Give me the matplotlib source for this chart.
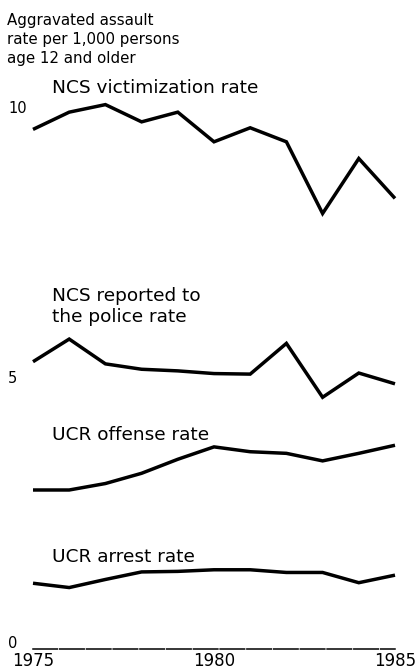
import matplotlib
matplotlib.use("Agg")
import matplotlib.pyplot as plt
from matplotlib.transforms import ScaledTranslation

years = [1975, 1976, 1977, 1978, 1979, 1980, 1981, 1982, 1983, 1984, 1985]
ncs_victimization = [9.64, 9.96, 10.1, 9.78, 9.96, 9.41, 9.67, 9.41, 8.08, 9.10, 8.36]
ncs_reported = [5.33, 5.75, 5.29, 5.19, 5.16, 5.11, 5.10, 5.67, 4.67, 5.12, 4.92]
ucr_offense = [2.95, 2.95, 3.07, 3.26, 3.52, 3.75, 3.66, 3.63, 3.49, 3.63, 3.78]
ucr_arrest = [1.22, 1.14, 1.29, 1.43, 1.44, 1.47, 1.47, 1.42, 1.42, 1.23, 1.37]

ytick_vals = [0, 5, 10]
ytick_labels = ["0", "5", "10"]
xtick_vals = [1975, 1980, 1985]
xtick_labels = ["1975", "1980", "1985"]

title_lines = ["Aggravated assault", "rate per 1,000 persons", "age 12 and older"]

plt.rcParams['font.family'] = ['DejaVu Sans']

W, H = 416, 672
fig = plt.figure(figsize=(W / 100, H / 100), dpi=100)
fig.patch.set_facecolor('white')

px_per_unit = 53.9
y0_px = 649
left_px, right_px = 33, 395
ax = fig.add_axes([left_px / W, (H - y0_px) / H, (right_px - left_px) / W, 12 * px_per_unit / H])
ax.set_xlim(1975, 1985)
ax.set_ylim(0, 12)

lw = 2.5
for series in (ncs_victimization, ncs_reported, ucr_offense, ucr_arrest):
    ax.plot(years, series, color='black', lw=lw, solid_joinstyle='miter', solid_capstyle='butt', clip_on=False)

for s in ('top', 'right', 'left'):
    ax.spines[s].set_visible(False)
ax.spines['bottom'].set_linewidth(1.1)
ax.spines['bottom'].set_linestyle((0, (16, 1.5)))

ax.set_xticks(xtick_vals)
ax.set_xticklabels(xtick_labels, fontsize=12)
ax.tick_params(axis='x', length=0, pad=2)
ax.set_yticks(ytick_vals)
ax.set_yticklabels(ytick_labels, fontsize=10.5, ha='left', va='baseline')
ax.tick_params(axis='y', length=0, pad=18)
offsets_px = [1.5, -3, -3]
for lbl, off in zip(ax.get_yticklabels(), offsets_px):
    lbl.set_transform(lbl.get_transform() + ScaledTranslation(0, off / 100, fig.dpi_scale_trans))

lab_x = 1975.52
fs = 13.3
ax.text(lab_x, 10.32, "NCS victimization rate", fontsize=fs, va='baseline', ha='left')
ax.text(lab_x, 6.46, "NCS reported to", fontsize=fs, va='baseline', ha='left')
ax.text(lab_x, 6.07, "the police rate", fontsize=fs, va='baseline', ha='left')
ax.text(lab_x, 3.88, "UCR offense rate", fontsize=fs, va='baseline', ha='left')
ax.text(lab_x, 1.62, "UCR arrest rate", fontsize=fs, va='baseline', ha='left')

for i, (line, base) in enumerate(zip(title_lines, [25, 44, 62.7])):
    fig.text(7 / W, 1 - base / H, line, fontsize=10.8, va='baseline', ha='left')

fig.savefig("out.png", dpi=100, facecolor='white')
